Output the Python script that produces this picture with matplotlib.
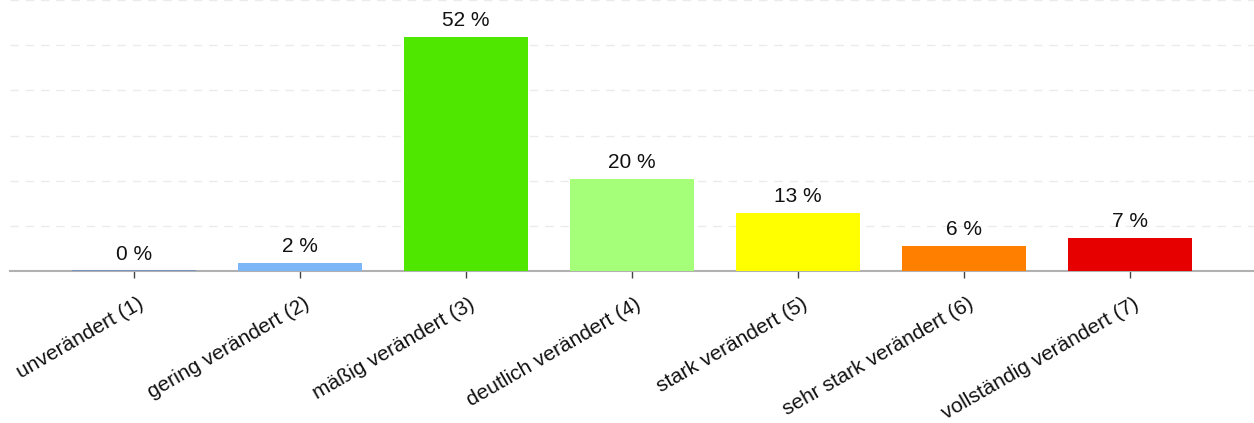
import matplotlib.pyplot as plt
import matplotlib.transforms as mtransforms
import numpy as np

plt.rcParams['font.family'] = ['Liberation Sans', 'DejaVu Sans']

categories = ['unverändert (1)', 'gering verändert (2)', 'mäßig verändert (3)',
              'deutlich verändert (4)', 'stark verändert (5)',
              'sehr stark verändert (6)', 'vollständig verändert (7)']
values = [0, 1.7, 51.8, 20.4, 12.8, 5.6, 7.2]
colors = ['#7db6f7', '#7db6f7', '#4fe600', '#a6ff78', '#ffff00', '#ff8000', '#e60000']
edge_colors = ['#6f8fbf', 'none', 'none', 'none', 'none', 'none', 'none']

fig = plt.figure(figsize=(12.54, 4.23), dpi=100)
ax = fig.add_axes([9.5 / 1254, (423 - 271) / 423, 1245 / 1254, 271 / 423])

x = np.arange(len(categories))
bars = ax.bar(x, values, width=0.75, color=colors, edgecolor=edge_colors,
              linewidth=1.2, zorder=3)

for xi, v in zip(x, values):
    ax.annotate(f'{v:.0f} %', (xi, v), xytext=(0, 8), textcoords='offset points',
                ha='center', va='baseline', fontsize=15, color='#111111', zorder=4)

ax.set_xlim(-0.75, len(categories) - 0.25)
ax.set_ylim(0, 60)
ax.set_yticks(np.arange(0, 61, 10))
ax.yaxis.grid(True, color='#ebebeb', linestyle=(0, (6, 5)), linewidth=1, zorder=0)
ax.set_axisbelow(True)
ax.tick_params(axis='y', left=False, labelleft=False)

for side in ['top', 'right', 'left']:
    ax.spines[side].set_visible(False)
ax.spines['bottom'].set_color('#b0b0b0')
ax.spines['bottom'].set_linewidth(1.5)
ax.axhline(0, color='#777777', linestyle=(0, (5, 5)), linewidth=1, zorder=2)

ax.set_xticks(x)
ax.set_xticklabels(categories, rotation=30, ha='right', rotation_mode='anchor',
                   fontsize=15, color='#111111')
ax.tick_params(axis='x', length=5, width=1, color='#444444', pad=6)

# nudge tick labels a bit right and down
shift = mtransforms.ScaledTranslation(3 / 100, -8 / 100, fig.dpi_scale_trans)
for lbl in ax.get_xticklabels():
    lbl.set_transform(lbl.get_transform() + shift)

fig.savefig('out.png', dpi=100)
